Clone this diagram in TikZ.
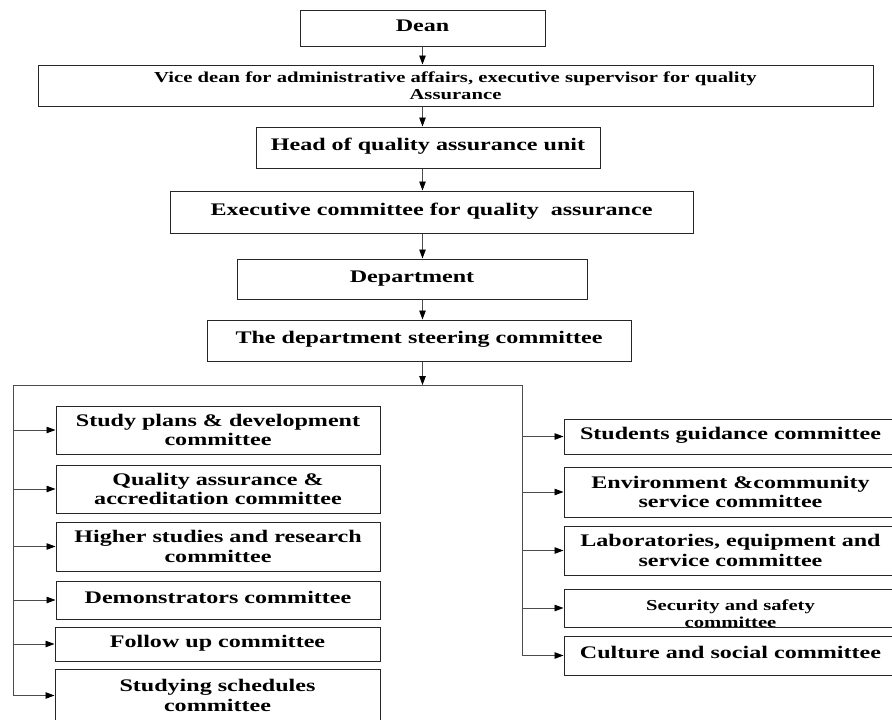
\documentclass[tikz,border=0pt]{standalone}
\usepackage{fontspec}
\setmainfont{Liberation Serif}[FakeStretch=1.36]
\usetikzlibrary{arrows.meta}
\newcommand\bxfont{\fontsize{17.7}{19.5}\selectfont\bfseries}
\newcommand\smfont{\fontsize{15.2}{17}\selectfont\bfseries}
\begin{document}
\begin{tikzpicture}[x=1pt,y=-1pt,
  box/.style={draw=black!85, line width=1pt, inner sep=0pt, font=\bxfont, align=center, text=black},
  one/.style={text height=12pt, text depth=6pt},
  conn/.style={draw=black!70, line width=0.9pt},
  arr/.style={conn, -{Triangle[length=9pt,width=6.5pt,color=black]}}]
\useasboundingbox (0,0) rectangle (892,720);
\fill[white] (0,0) rectangle (892,720);
% top chain
\node[box, one, minimum width=245, minimum height=36] (dean) at (422.5,28) {Dean};
\node[box, font=\smfont, minimum width=835, minimum height=41] (vice) at (455.5,85.5) {Vice dean for administrative affairs, executive supervisor for quality\\Assurance};
\node[box, one, minimum width=344, minimum height=41] (head) at (428,147.5) {Head of quality assurance unit};
\node[box, one, minimum width=523, minimum height=42] (exec) at (431.5,212) {Executive committee for quality \ assurance};
\node[box, one, minimum width=350, minimum height=40] (dept) at (412,279) {Department};
\node[box, one, minimum width=424, minimum height=41] (steer) at (419,340.5) {The department steering committee};
% left column
\node[box, minimum width=324, minimum height=48] (study) at (218,430) {Study plans \& development\\committee};
\node[box, minimum width=324, minimum height=48] (qual) at (218,489) {Quality assurance \&\\accreditation committee};
\node[box, minimum width=324, minimum height=49] (higher) at (218,546.5) {Higher studies and research\\committee};
\node[box, one, minimum width=324, minimum height=38] (demo) at (218,600) {Demonstrators committee};
\node[box, one, minimum width=325, minimum height=34] (follow) at (217.5,644) {Follow up committee};
\node[box, minimum width=325, minimum height=53] (sched) at (217.5,695.5) {Studying schedules\\committee};
% right column
\node[box, one, minimum width=333, minimum height=35] (guid) at (730.5,436.5) {Students guidance committee};
\node[box, minimum width=333, minimum height=50] (env) at (730.5,492) {Environment \&community\\service committee};
\node[box, minimum width=333, minimum height=49] (lab) at (730.5,550.5) {Laboratories, equipment and\\service committee};
\node[box, minimum width=333, minimum height=38] (sec) at (730.5,608) {};
\begin{scope}
\clip (sec.north west) rectangle (sec.south east);
\node[font=\smfont, align=center, inner sep=0pt] (sectext) at (730.5,614) {Security and safety\\committee};
\end{scope}
\node[box, one, minimum width=333, minimum height=39] (cult) at (730.5,655.5) {Culture and social committee};
% vertical chain connectors
\draw[arr] (dean.south) -- (dean.south |- vice.north);
\draw[arr] (vice.south -| dean.south) -- (dean.south |- head.north);
\draw[arr] (head.south -| dean.south) -- (dean.south |- exec.north);
\draw[arr] (exec.south -| dean.south) -- (dean.south |- dept.north);
\draw[arr] (dept.south -| dean.south) -- (dean.south |- steer.north);
% branch
\coordinate (bl) at (13,385);
\coordinate (br) at (522,385);
\draw[arr] (steer.south -| dean.south) -- (dean.south |- bl);
\draw[conn] (bl) -- (br);
\draw[conn] (bl) -- (bl |- sched.west);
\draw[conn] (br) -- (br |- cult.west);
\foreach \n in {study,qual,higher,demo,follow,sched}
  \draw[arr] (bl |- \n.west) -- (\n.west);
\foreach \n in {guid,env,lab,sec,cult}
  \draw[arr] (br |- \n.west) -- (\n.west);
\end{tikzpicture}
\end{document}
